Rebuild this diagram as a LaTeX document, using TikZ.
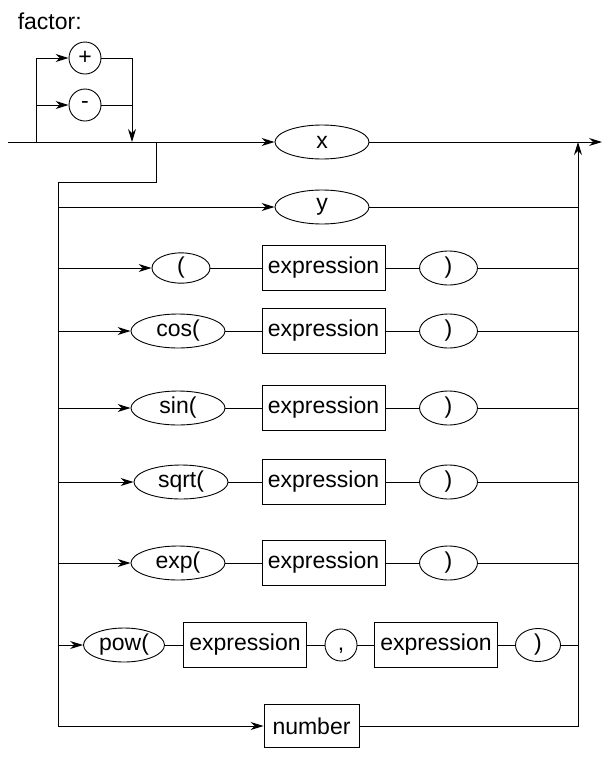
\documentclass[tikz,border=0pt]{standalone}
\usepackage{fontspec}
\setmainfont{Liberation Sans}
\usetikzlibrary{arrows.meta,shapes.geometric,positioning}

\begin{document}
\begin{tikzpicture}[x=1pt,y=-1pt,line width=0.9pt,>={Stealth[length=13pt,width=8pt]},
   node distance=125pt,on grid,font=\fontsize{23}{27}\selectfont,
   term/.style={ellipse,draw,inner sep=0pt,minimum width=94pt,minimum height=34pt},
   sym/.style={circle,draw,inner sep=0pt,minimum size=32pt},
   nonterm/.style={rectangle,draw,inner sep=0pt,minimum width=123pt,minimum height=45pt}]
   \useasboundingbox (0,0) rectangle (611,758);
   \node[anchor=base west] (title) at (14,29) {factor:};
   \node[sym] (plus) at (85,58) {+};
   \node[sym] (minus) at (85,105) {-};
   \node[term] (x) at (322,142) {x};
   \node[term] (y) at (322,207) {y};
   \node[term,minimum width=58pt,minimum height=28pt] (lp) at (181,268) {(};
   \node[nonterm] (e_1) at (323.5,268) {expression};
   \node[term,minimum width=58pt] (rp_1) [right=of e_1] {)};
   \node[term] (cos) at (178,331) {cos(};
   \node[nonterm] (e_2) at (323.5,331) {expression};
   \node[term,minimum width=58pt] (rp_2) [right=of e_2] {)};
   \node[term] (sin) at (178,408) {sin(};
   \node[nonterm] (e_3) at (323.5,408) {expression};
   \node[term,minimum width=58pt] (rp_3) [right=of e_3] {)};
   \node[term] (sqrt) at (181,482) {sqrt(};
   \node[nonterm] (e_4) at (323.5,482) {expression};
   \node[term,minimum width=58pt] (rp_4) [right=of e_4] {)};
   \node[term] (exp) at (178,563) {exp(};
   \node[nonterm] (e_5) at (323.5,563) {expression};
   \node[term,minimum width=58pt] (rp_5) [right=of e_5] {)};
   \node[term,minimum width=81pt] (pow) at (124,645) {pow(};
   \node[nonterm] (e_6) at (245,645) {expression};
   \node[sym] (comma) at (341,645) {\vphantom{(},};
   \node[nonterm] (e_7) at (436,645) {expression};
   \node[term,minimum width=45pt,minimum height=33pt] (rp_6) at (538,645) {)};
   \node[nonterm,minimum width=95pt,minimum height=43pt] (num) at (311.5,726) {number};
   \coordinate (start) at (8,142);
   \coordinate (split) at (36,142);
   \coordinate (join) at (132,142);
   \coordinate (fork) at (156,142);
   \coordinate (bend) at (58,182);
   \coordinate (rtop) at (578,142);
   \coordinate (exit) at (602,142);
    % sign loop
    \draw[->] (split) |- (plus);
    \draw[->] (split) |- (minus);
    \draw[->] (plus) -| (join);
    \draw (minus) -- (minus -| join);
    % main line
    \draw[->] (start) -- (x);
    \draw[->] (x) -- (exit);
    \draw (fork) |- (bend) -- (bend |- num);
    \draw[->] (num) -| (rtop);
    \draw[->] (bend |- y) -- (y);
    \draw (y) -- (y -| rtop);
    \draw[->] (bend |- lp) -- (lp);
    \draw (lp) -- (e_1) -- (rp_1) -- (rp_1 -| rtop);
    \draw[->] (bend |- cos) -- (cos);
    \draw (cos) -- (e_2) -- (rp_2) -- (rp_2 -| rtop);
    \draw[->] (bend |- sin) -- (sin);
    \draw (sin) -- (e_3) -- (rp_3) -- (rp_3 -| rtop);
    \draw[->] (bend |- sqrt) -- (sqrt);
    \draw (sqrt) -- (e_4) -- (rp_4) -- (rp_4 -| rtop);
    \draw[->] (bend |- exp) -- (exp);
    \draw (exp) -- (e_5) -- (rp_5) -- (rp_5 -| rtop);
    \draw[->] (bend |- pow) -- (pow);
    \draw (pow) -- (e_6) -- (comma) -- (e_7) -- (rp_6) -- (rp_6 -| rtop);
    \draw[->] (bend |- num) -- (num);
\end{tikzpicture}
\end{document}
